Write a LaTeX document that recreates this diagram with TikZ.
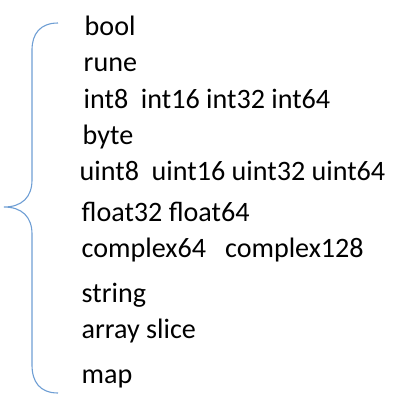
\documentclass[tikz,border=0pt]{standalone}
\usepackage{fontspec}
\setmainfont{Carlito}
\definecolor{bracecol}{RGB}{110,158,212}
\begin{document}
\begin{tikzpicture}[x=1bp,y=1bp]
	\tikzstyle{every node}+=[inner sep=0pt, anchor=base west, font=\fontsize{28.1bp}{33bp}\selectfont]
	\useasboundingbox (0,0) rectangle (401,-411);
	\draw [bracecol, line width=1.1bp] (58,-23) .. controls (40,-23) and (32,-34) .. (32,-50) -- (32,-180) .. controls (32,-197) and (22,-207) .. (4,-207) .. controls (22,-207) and (32,-217) .. (32,-234) -- (32,-365) .. controls (32,-382) and (40,-393) .. (58,-393);
	\node (bool) at (84.5,-35) {bool};
	\node (rune) at (83.5,-71) {rune};
	\node (int) at (83.5,-108) {int8\ \ int16 int32 int64};
	\node (byte) at (82.5,-144) {byte};
	\node (uint) at (79.5,-180) {uint8\ \ uint16 uint32 uint64};
	\node (float) at (81.5,-221) {float32 float64};
	\node (complex) at (81.5,-257) {complex64\ \ \ complex128};
	\node (string) at (81.5,-302) {string};
	\node (array) at (81.5,-338) {array slice};
	\node (map) at (81.5,-383) {map};
\end{tikzpicture}
\end{document}
